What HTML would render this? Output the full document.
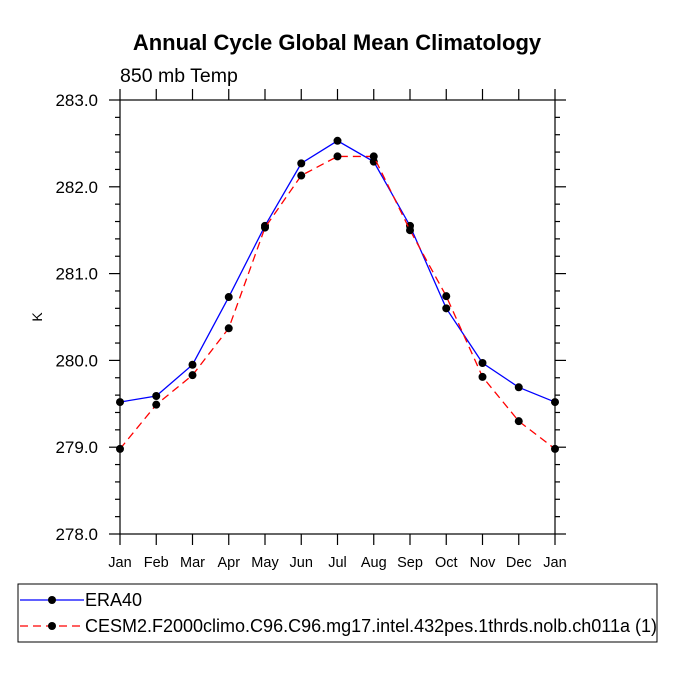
<!DOCTYPE html>
<html><head><meta charset="utf-8"><style>
body{margin:0;background:#fff}
svg{font-family:"Liberation Sans",sans-serif}
</style></head><body>
<svg id="c" width="675" height="675" xmlns="http://www.w3.org/2000/svg">
<rect width="675" height="675" fill="#fff"/>
<text x="337" y="50" text-anchor="middle" font-size="22" font-weight="bold">Annual Cycle Global Mean Climatology</text>
<text x="120" y="82" font-size="19.5">850 mb Temp</text>
<text x="42" y="317" font-size="14" text-anchor="middle" transform="rotate(-90 42 317)">K</text>
<g id="axes"></g>
<g id="series"></g>
<rect x="18" y="584" width="639" height="58" fill="none" stroke="#000" stroke-width="1"/>
<g>
<line x1="20" y1="600" x2="84" y2="600" stroke="#00f" stroke-width="1.3"/>
<circle cx="52" cy="600" r="4" fill="#000"/>
<text x="85" y="606" font-size="18">ERA40</text>
</g>
<g>
<line x1="20" y1="626" x2="84" y2="626" stroke="#f00" stroke-width="1.3" stroke-dasharray="8,5"/>
<circle cx="52" cy="626" r="4" fill="#000"/>
<text x="85" y="632" font-size="18">CESM2.F2000climo.C96.C96.mg17.intel.432pes.1thrds.nolb.ch011a (1)</text>
</g>
</svg>
<script>
const months=["Jan","Feb","Mar","Apr","May","Jun","Jul","Aug","Sep","Oct","Nov","Dec","Jan"];
const era40=[279.52,279.59,279.95,280.73,281.55,282.27,282.53,282.29,281.55,280.60,279.97,279.69,279.52];
const cesm2=[278.98,279.49,279.83,280.37,281.53,282.13,282.35,282.35,281.50,280.74,279.81,279.30,278.98];
const yTicks=["278.0","279.0","280.0","281.0","282.0","283.0"];
const L=120,R=555,T=100,B=534,ymin=278,ymax=283;
const NS="http://www.w3.org/2000/svg";
const xs=i=>L+(R-L)*i/(months.length-1);
const ys=v=>B-(B-T)*(v-ymin)/(ymax-ymin);
function mk(tag,attrs,parent){const e=document.createElementNS(NS,tag);for(const k in attrs)e.setAttribute(k,attrs[k]);parent.appendChild(e);return e;}
const ax=document.getElementById('axes');
const frame=mk('rect',{x:L,y:T,width:R-L,height:B-T,fill:'none',stroke:'#000','stroke-width':1.2},ax);


months.forEach((m,i)=>{
  const x=xs(i);
  mk('line',{x1:x,y1:B,x2:x,y2:B+11,stroke:'#000','stroke-width':1.2},ax);
  mk('line',{x1:x,y1:T,x2:x,y2:T-11,stroke:'#000','stroke-width':1.2},ax);
  const t=mk('text',{x:x,y:B+33,'text-anchor':'middle','font-size':14.5},ax);
  t.textContent=m;
  
  
});
for(let v=ymin;v<=ymax+1e-6;v+=0.2){
  const y=ys(v);const major=Math.abs(v-Math.round(v))<1e-6;const len=major?11:5;
  mk('line',{x1:L,y1:y,x2:L-len,y2:y,stroke:'#000','stroke-width':1.2},ax);
  mk('line',{x1:R,y1:y,x2:R+len,y2:y,stroke:'#000','stroke-width':1.2},ax);
}
yTicks.forEach(s=>{
  const t=mk('text',{x:L-22,y:ys(parseFloat(s))+6,'text-anchor':'end','font-size':17},ax);
  t.textContent=s;
  
  
});
const sg=document.getElementById('series');
function series(vals,color,dash,name){
  const g=mk('g',{},sg);
  
  
  const p=mk('polyline',{points:vals.map((v,i)=>xs(i)+','+ys(v)).join(' '),fill:'none',stroke:color,'stroke-width':1.3},g);
  if(dash)p.setAttribute('stroke-dasharray',dash);
  vals.forEach((v,i)=>{
    const c=mk('circle',{cx:xs(i),cy:ys(v),r:4,fill:'#000'},g);
    
    
  });
}
series(era40,'#00f',null,'series-era40');
series(cesm2,'#f00','8,5','series-cesm2');
</script>
</body></html>
